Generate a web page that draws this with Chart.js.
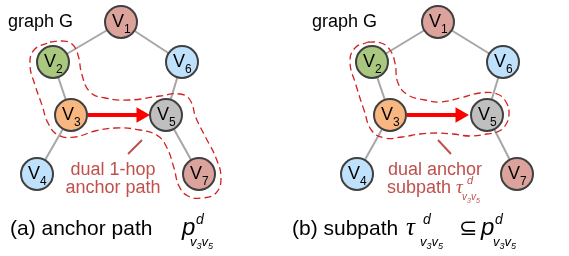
<!DOCTYPE html>
<html lang="en">
<head>
<meta charset="UTF-8" />
<script src="https://cdn.jsdelivr.net/npm/chart.js@4.4.0/dist/chart.umd.min.js"></script>
<title>anchor path</title>
<style>
  html, body { margin: 0; padding: 0; background: #fff; }
  canvas { display: block; }
</style>
</head>
<body>
<canvas id="graph" width="569" height="256"></canvas>
<script>
// graph nodes (v1..v7) for the two panels
const nodeNames = ["1", "2", "3", "4", "5", "6", "7"];
const nodeColors = ["#dba39c", "#a9c77f", "#f8b780", "#bfe1fb", "#bfbfbf", "#bfe1fb", "#dba39c"];
const leftX = [121, 53, 71, 37, 166, 182, 199];
const leftY = [22, 62, 115, 174, 115, 62, 174];
const rightX = [438, 372, 390, 357, 487, 503, 517];
const rightY = [22, 62, 115, 174, 115, 62, 174];
// edges by node index
const edges = [[0, 1], [0, 5], [1, 2], [5, 4], [2, 3], [4, 6]];
// dashed outlines around the paths
const outlineA = [[50,42],[62,41],[72,44],[78,55],[82,75],[90,92],[105,98],[130,100],[160,96],[180,94],[190,100],[196,118],[206,138],[216,158],[221,178],[216,193],[202,198],[188,196],[179,186],[174,168],[167,148],[158,136],[140,130],[115,128],[95,131],[75,137],[58,135],[48,123],[42,105],[35,85],[30,65],[34,50],[50,42]];
const outlineB = [[368,42],[381,43],[390,50],[395,63],[398,83],[408,95],[425,100],[440,102],[460,98],[480,93],[497,94],[506,102],[509,114],[505,126],[497,132],[487,134],[470,136],[453,134],[437,133],[420,134],[402,137],[385,138],[372,131],[364,110],[356,85],[350,62],[355,48],[368,42]];
// red arrow v3 -> v5 and the callout strokes
const arrowA = [[88, 115], [141, 115]];
const arrowB = [[407, 115], [460, 115]];
const calloutA = [[128, 154], [142, 140]];
const calloutB = [[438, 140], [451, 154]];

const pts = (xs, ys) => xs.map((x, i) => ({ x: x, y: ys[i] }));
const pairs = (list) => list.map(p => ({ x: p[0], y: p[1] }));

const datasets = [];
datasets.push({
  data: pts(leftX, leftY).concat(pts(rightX, rightY)),
  pointRadius: 16,
  pointBorderWidth: 2,
  pointBackgroundColor: nodeColors.concat(nodeColors),
  pointBorderColor: "#404040",
  showLine: false,
  order: 0
});
[[leftX, leftY], [rightX, rightY]].forEach(([xs, ys]) => {
  edges.forEach(([a, b]) => {
    datasets.push({
      data: [{ x: xs[a], y: ys[a] }, { x: xs[b], y: ys[b] }],
      showLine: true, pointRadius: 0,
      borderColor: "#a6a6a6", borderWidth: 2, order: 5
    });
  });
});
[outlineA, outlineB].forEach(o => {
  datasets.push({
    data: pairs(o), showLine: true, pointRadius: 0, tension: 0.45,
    borderColor: "#d42020", borderWidth: 1.3, borderDash: [7, 4], order: 3
  });
});
[arrowA, arrowB].forEach(a => {
  datasets.push({
    data: pairs(a), showLine: true, borderColor: "#ff0000", borderWidth: 4,
    pointRadius: [0, 9], pointStyle: "triangle", rotation: 90,
    pointBackgroundColor: "#ff0000", pointBorderWidth: 0, order: 2
  });
});
[calloutA, calloutB].forEach(c => {
  datasets.push({
    data: pairs(c), showLine: true, pointRadius: 0,
    borderColor: "#c0504d", borderWidth: 2, order: 2
  });
});

const SANS = '"Liberation Sans", Arial, sans-serif';
const SERIF = '"Liberation Serif", "Times New Roman", serif';
const RED = "#c0504d";

function put(ctx, text, x, y, font, color, align) {
  ctx.font = font;
  ctx.fillStyle = color || "#000";
  ctx.textAlign = align || "left";
  ctx.textBaseline = "alphabetic";
  ctx.fillText(text, x, y);
  return ctx.measureText(text).width;
}

// subscript "v3v5"
function sub35(ctx, x, y, big, small, color) {
  let cx = x;
  ["3", "5"].forEach(n => {
    cx += put(ctx, "v", cx, y, "italic " + big + "px " + SANS, color);
    cx += put(ctx, n, cx, y + 3, "italic " + small + "px " + SANS, color);
  });
}

const textPlugin = {
  id: "texts",
  afterDatasetsDraw(chart) {
    const { ctx, scales: { x, y } } = chart;
    ctx.save();
    [[leftX, leftY], [rightX, rightY]].forEach(([xs, ys]) => {
      xs.forEach((vx, i) => {
        const px = x.getPixelForValue(vx), py = y.getPixelForValue(ys[i]);
        put(ctx, "V", px - 3, py + 5, "18px " + SANS, "#000", "center");
        put(ctx, nodeNames[i], px + 3, py + 11, "12px " + SANS, "#000");
      });
    });
    put(ctx, "graph G", 8, 27, "18px " + SANS);
    put(ctx, "graph G", 312, 27, "18px " + SANS);

    put(ctx, "dual 1-hop", 113, 175, "18px " + SANS, RED, "center");
    put(ctx, "anchor path", 113, 193, "18px " + SANS, RED, "center");

    put(ctx, "dual anchor", 435, 175, "18px " + SANS, RED, "center");
    put(ctx, "subpath", 387, 193, "18px " + SANS, RED);
    put(ctx, "\u03c4", 456, 193, "italic 19px " + SERIF, RED);
    put(ctx, "d", 467, 184, "italic 11px " + SANS, RED);
    sub35(ctx, 462, 200, 10, 7, RED);

    put(ctx, "(a) anchor path", 10, 235, "21px " + SANS);
    put(ctx, "p", 182, 235, "italic 24px " + SANS);
    put(ctx, "d", 196, 224, "italic 14px " + SANS);
    sub35(ctx, 190, 246, 13, 9, "#000");

    put(ctx, "(b) subpath", 292, 235, "21px " + SANS);
    put(ctx, "\u03c4", 406, 235, "italic 25px " + SERIF);
    put(ctx, "d", 423, 224, "italic 14px " + SANS);
    sub35(ctx, 420, 246, 13, 9, "#000");
    put(ctx, "\u2286", 459, 235, "22px \"DejaVu Sans\"");
    put(ctx, "p", 481, 235, "italic 24px " + SANS);
    put(ctx, "d", 495, 224, "italic 14px " + SANS);
    sub35(ctx, 493, 246, 13, 9, "#000");
    ctx.restore();
  }
};

new Chart(document.getElementById("graph"), {
  type: "scatter",
  data: { datasets: datasets },
  options: {
    responsive: false,
    animation: false,
    events: [],
    devicePixelRatio: 1,
    layout: { padding: 0, autoPadding: false },
    scales: {
      x: { type: "linear", min: 0, max: 569, display: false },
      y: { type: "linear", min: 0, max: 256, reverse: true, display: false }
    },
    plugins: { legend: { display: false }, tooltip: { enabled: false } }
  },
  plugins: [textPlugin]
});
</script>
</body>
</html>
